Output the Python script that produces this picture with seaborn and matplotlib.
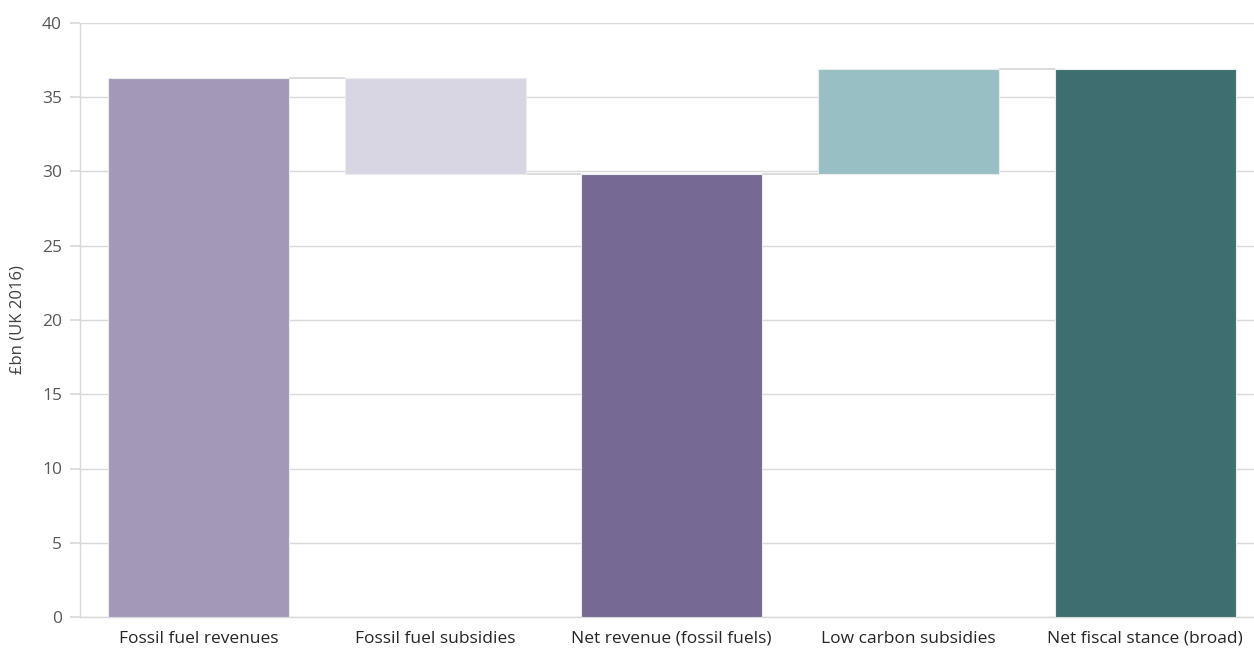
import matplotlib
matplotlib.use("Agg")
import matplotlib.pyplot as plt
import seaborn as sns
import pandas as pd

categories = ["Fossil fuel revenues", "Fossil fuel subsidies", "Net revenue (fossil fuels)",
              "Low carbon subsidies", "Net fiscal stance (broad)"]
bar_bottoms = [0.0, 29.8, 0.0, 29.8, 0.0]
bar_tops = [36.3, 36.3, 29.8, 36.9, 36.9]
connector_levels = [36.3, 29.8, 29.8, 36.9]
colors = ["#a398b8", "#d9d6e4", "#766993", "#98c0c4", "#3e6e6f"]
y_ticks = [0, 5, 10, 15, 20, 25, 30, 35, 40]

sns.set_theme(style="white")
plt.rcParams['font.family'] = ['Open Sans', 'DejaVu Sans']

fig = plt.figure(figsize=(12.54, 6.51), dpi=100)
ax = fig.add_axes([80/1254, 34/651, 1 - 80/1254, (617-23)/651])

df = pd.DataFrame({"cat": categories, "top": bar_tops})
sns.barplot(data=df, x="cat", y="top", hue="cat", palette=colors, legend=False,
            saturation=1, width=0.765, ax=ax, edgecolor="#ececec", linewidth=0.8, zorder=3)

patches = [p for p in ax.patches]
for p, b, t in zip(patches, bar_bottoms, bar_tops):
    p.set_y(b)
    p.set_height(t - b)

for i, lvl in enumerate(connector_levels):
    x0 = patches[i].get_x() + patches[i].get_width()
    x1 = patches[i + 1].get_x()
    ax.plot([x0, x1], [lvl, lvl], color="#dcdcdc", lw=1.4, zorder=2, solid_capstyle="butt")

ax.set_ylim(0, 40)
ax.set_yticks(y_ticks)
ax.set_xlim(-0.5, 4.46)
ax.yaxis.grid(True, color="#d9d9d9", lw=1.0, zorder=0)
ax.set_axisbelow(True)
for s in ["top", "right"]:
    ax.spines[s].set_visible(False)
ax.spines["left"].set_color("#d9d9d9")
ax.spines["bottom"].set_color("#d9d9d9")
ax.spines["left"].set_linewidth(1.0)
ax.spines["bottom"].set_linewidth(1.0)
ax.tick_params(axis="y", length=7, color="#d9d9d9", labelsize=12.5, labelcolor="#595959", pad=6, left=True)
ax.tick_params(axis="x", length=0, labelsize=12.5, labelcolor="#262626", pad=10)
ax.set_xlabel("")
ax.set_ylabel("£bn (UK 2016)", fontsize=12, color="#404040", labelpad=12)

fig.savefig("out.png", dpi=100)
